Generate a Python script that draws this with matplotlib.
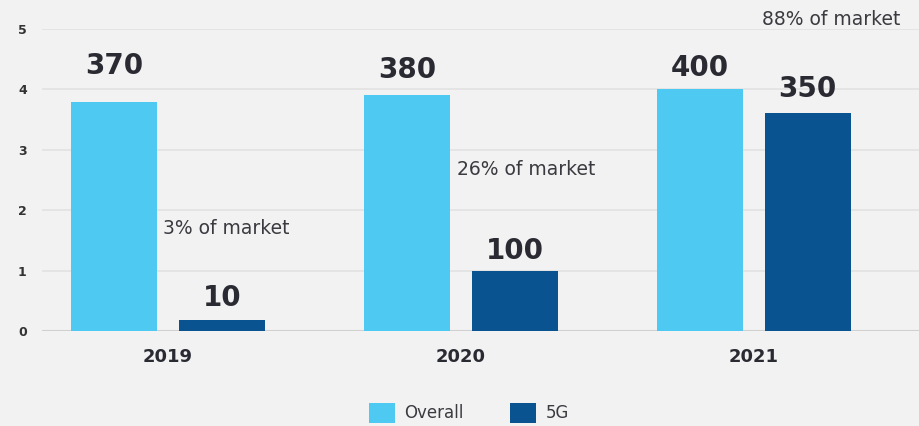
import matplotlib.pyplot as plt
import numpy as np

# chart data
years = ["2019", "2020", "2021"]
overall = [3.79, 3.91, 4.0]
fiveg = [0.18, 1.0, 3.61]
overall_labels = ["370", "380", "400"]
fiveg_labels = ["10", "100", "350"]
share_labels = ["3% of market", "26% of market", "88% of market"]
share_y = [1.69, 2.67, 5.15]
y_ticks = [0, 1, 2, 3, 4, 5]

# layout tweaks (points above bar top / x shift of the share notes)
overall_pad = [16, 8, 5]
fiveg_pad = [6, 4, 7]
share_dx = [-0.017, -0.014, 0.027]

BG = "#f2f2f2"
LIGHT = "#4ec9f2"
DARK = "#0a5391"
TEXT = "#2a2a33"

fig = plt.figure(figsize=(9.2, 4.26), dpi=100, facecolor=BG)
ax = fig.add_axes([42 / 920, 95 / 426, 1 - 42 / 920, 302 / 426])
ax.set_facecolor(BG)

x = np.arange(len(years))
w = 0.293
off = 0.184
b1 = ax.bar(x - off, overall, w, color=LIGHT, label="Overall", zorder=3)
b2 = ax.bar(x + off, fiveg, w, color=DARK, label="5G", zorder=3)

for bars, labels, pads in [(b1, overall_labels, overall_pad), (b2, fiveg_labels, fiveg_pad)]:
    for rect, lab, p in zip(bars, labels, pads):
        ax.annotate(lab, (rect.get_x() + rect.get_width() / 2, rect.get_height()),
                    xytext=(0, p), textcoords="offset points", ha="center", va="bottom",
                    fontsize=20, fontweight="bold", color=TEXT)

for i, (lab, yy, dx) in enumerate(zip(share_labels, share_y, share_dx)):
    ax.text(i + dx, yy, lab, ha="left", va="center", fontsize=13.5,
            color="#3a3a40", clip_on=False)

ax.set_xlim(-0.43, 2.567)
ax.set_ylim(0, 5)
ax.set_yticks(y_ticks)
ax.set_xticks(x)
ax.set_xticklabels(years, fontsize=13, fontweight="bold", color=TEXT)
for t in ax.get_yticklabels():
    t.set_fontsize(9)
    t.set_fontweight("bold")
    t.set_color("#333333")
ax.tick_params(axis="both", length=0)
ax.tick_params(axis="y", pad=11)
ax.tick_params(axis="x", pad=12)
ax.grid(axis="y", color="#e2e2e2", linewidth=1.2, zorder=0)
ax.axhline(0, color="#d0d0d0", linewidth=1.5, zorder=2)
for s in ax.spines.values():
    s.set_visible(False)

fig.legend(handles=[b1, b2], labels=["Overall", "5G"], loc="center",
           bbox_to_anchor=(469 / 920, 13 / 426), ncol=2, frameon=False,
           fontsize=12, handlelength=1.55, handleheight=1.55,
           handletextpad=0.55, columnspacing=2.8, labelcolor="#3a3a40")

fig.savefig("out.png", dpi=100, facecolor=BG)
